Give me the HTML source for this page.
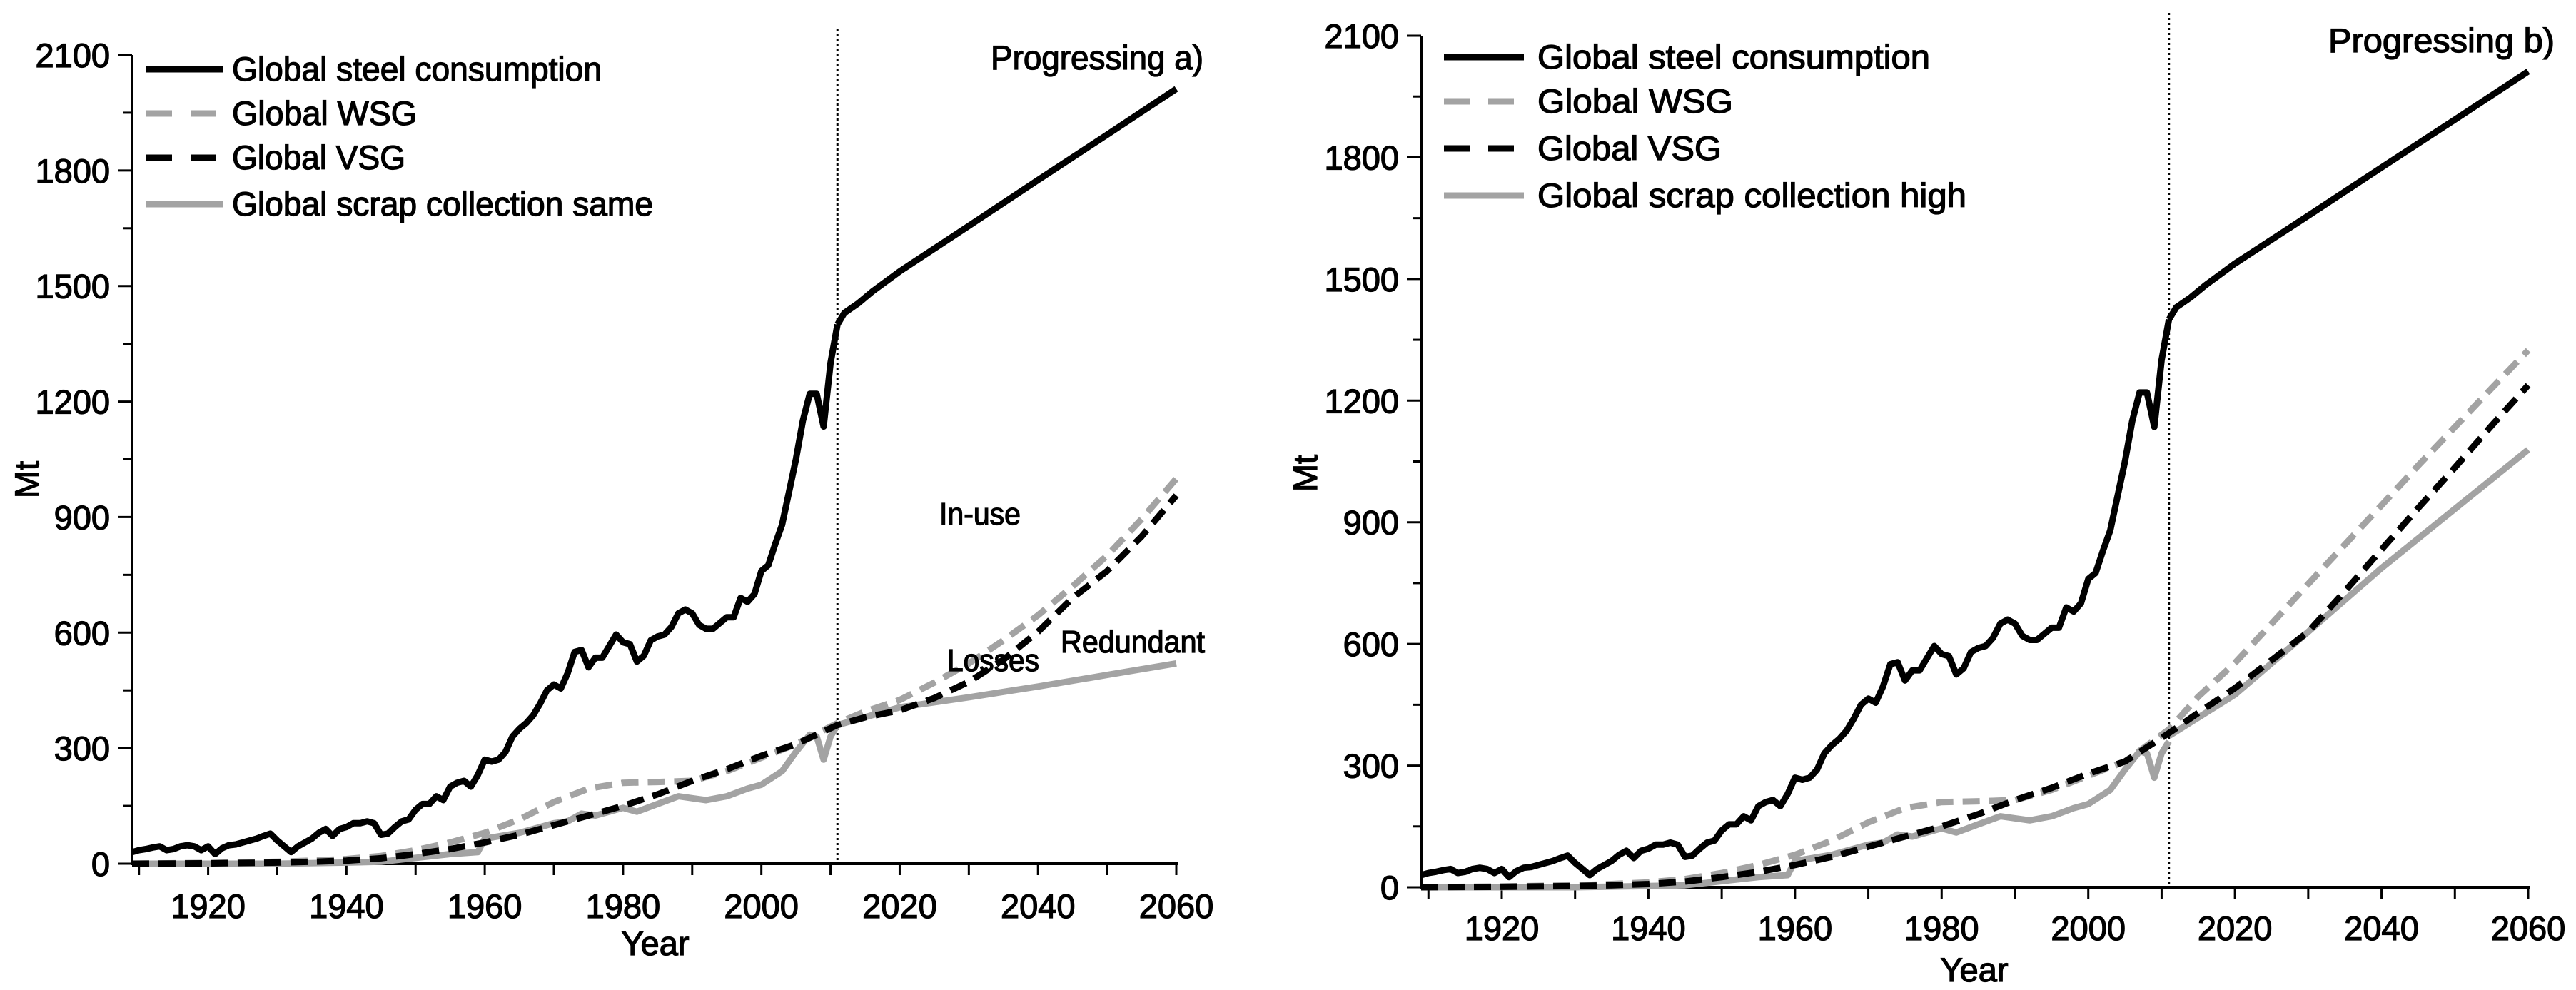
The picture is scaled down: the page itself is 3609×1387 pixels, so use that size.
<!DOCTYPE html>
<html><head><meta charset="utf-8"><style>
html,body{margin:0;padding:0;background:#fff;}
svg{display:block;font-family:"Liberation Sans",Arial,sans-serif;}
svg text{stroke:#000;stroke-width:1.3px;}
</style></head><body>
<svg id="fig" width="3609" height="1387" viewBox="0 0 3609 1387" xmlns="http://www.w3.org/2000/svg"></svg>
<script>
// ---- data ----
const histYears = [1909,1910,1911,1912,1913,1914,1915,1916,1917,1918,1919,1920,1921,1922,1923,1924,1925,1926,1927,1928,1929,1930,1931,1932,1933,1934,1935,1936,1937,1938,1939,1940,1941,1942,1943,1944,1945,1946,1947,1948,1949,1950,1951,1952,1953,1954,1955,1956,1957,1958,1959,1960,1961,1962,1963,1964,1965,1966,1967,1968,1969,1970,1971,1972,1973,1974,1975,1976,1977,1978,1979,1980,1981,1982,1983,1984,1985,1986,1987,1988,1989,1990,1991,1992,1993,1994,1995,1996,1997,1998,1999,2000,2001,2002,2003,2004,2005,2006,2007,2008,2009,2010,2011];
const steelHist = [30,35,38,42,45,35,38,45,48,45,35,45,25,40,48,50,55,60,65,72,78,60,45,30,45,55,65,80,90,72,90,95,105,105,110,105,75,78,95,110,115,140,155,155,175,165,200,210,215,200,230,270,265,270,290,330,350,365,385,415,450,465,455,495,550,555,510,535,535,565,595,575,570,525,540,580,590,595,615,650,660,650,620,610,610,625,640,640,690,680,700,760,775,830,880,965,1050,1150,1220,1220,1135,1300,1400];
const futYears = [2011,2012,2014,2016,2020,2030,2040,2050,2060];
const steelFut = [1400,1430,1455,1485,1538,1656,1775,1893,2012];

const smYears = [1909,1920,1930,1935,1940,1945,1950,1955,1960,1965,1970,1975,1980,1985,1990,1995,2000,2005,2011,2015,2020,2025,2030,2035,2040,2045,2050,2055,2060];
const wsgA = [0,2,5,8,12,20,35,55,80,115,160,195,210,212,215,240,275,310,365,395,425,470,520,580,645,720,800,895,1000];
const vsgA = [0,1,3,5,8,14,25,38,55,75,100,125,150,180,215,245,280,310,360,380,398,430,472,530,602,690,760,850,956];
const wsgB = [0,2,5,8,12,20,35,55,80,115,160,195,210,212,215,240,275,310,389,470,553,650,748,845,942,1040,1135,1230,1324];
const vsgB = [0,1,3,5,8,14,25,38,55,75,100,125,150,180,215,245,280,310,380,430,491,560,630,730,833,935,1035,1138,1238];

const scrapYears = [1909,1920,1930,1940,1945,1950,1955,1959,1960,1965,1970,1972,1974,1976,1980,1982,1985,1988,1990,1992,1995,1998,2000,2003,2005,2007,2008,2009,2010,2011];
const scrapHist = [0,0,0,3,5,15,25,30,65,80,105,110,130,125,145,135,155,175,170,165,175,195,205,240,290,335,330,270,330,360];
const scrapFutYears = [2011,2020,2030,2040,2050,2060];
const scrapFutA = [360,406,432,460,490,520];
const scrapFutB = [373,475,630,787,933,1079];

const yTicks = [0,300,600,900,1200,1500,1800,2100];
const xTicks = [1920,1940,1960,1980,2000,2020,2040,2060];
const legendA = ["Global steel consumption","Global WSG","Global VSG","Global scrap collection same"];
const legendB = ["Global steel consumption","Global WSG","Global VSG","Global scrap collection high"];

const NS="http://www.w3.org/2000/svg";
const svg=document.getElementById('fig');
function mk(tag,attrs,parent){const e=document.createElementNS(NS,tag);for(const k in attrs)e.setAttribute(k,attrs[k]);(parent||svg).appendChild(e);return e;}

const GRAY="#a3a3a3";
function panel(cfg){
  const g=mk('g',{});
  
  
  const X=y=>cfg.x0+(y-1909)*(cfg.x1-cfg.x0)/(2060-1909);
  const Y=v=>cfg.yb-v*(cfg.yb-cfg.yt)/2100;
  const ya=mk('line',{x1:cfg.x0,y1:cfg.yt,x2:cfg.x0,y2:cfg.yb+2,stroke:'#000','stroke-width':4},g);
  
  
  const xa=mk('line',{x1:cfg.x0-2,y1:cfg.yb,x2:cfg.x1+2,y2:cfg.yb,stroke:'#000','stroke-width':4},g);
  
  
  for(let v=0;v<=2100;v+=150){
    const major=v%300===0;
    mk('line',{x1:cfg.x0-(major?20:12),y1:Y(v),x2:cfg.x0,y2:Y(v),stroke:'#000','stroke-width':3},g);
  }
  yTicks.forEach(v=>{
    const t=mk('text',{x:cfg.x0-31,y:Y(v)+17,'text-anchor':'end','font-size':47},g);
    
    
    t.textContent=v;
  });
  for(let yr=1910;yr<=2060;yr+=10){
    mk('line',{x1:X(yr),y1:cfg.yb,x2:X(yr),y2:cfg.yb+16,stroke:'#000','stroke-width':3},g);
  }
  xTicks.forEach(yr=>{
    const t=mk('text',{x:X(yr),y:cfg.xl,'text-anchor':'middle','font-size':47},g);
    
    
    t.textContent=yr;
  });
  const xt=mk('text',{x:cfg.yearX,y:cfg.yearY,'text-anchor':'middle','font-size':47},g);
  
  
  xt.textContent='Year';
  const yt=mk('text',{x:0,y:0,'text-anchor':'middle','font-size':47,transform:`translate(${cfg.mtX},${cfg.mtY}) rotate(-90)`},g);
  
  
  yt.textContent='Mt';
  const dl=mk('line',{x1:X(2011),y1:cfg.dotTop,x2:X(2011),y2:cfg.yb,stroke:'#000','stroke-width':3,'stroke-dasharray':'3 4'},g);
  
  
  function line(xs,vs,style,name){
    const d=xs.map((x,i)=>(i?'L':'M')+X(x).toFixed(1)+' '+Y(vs[i]).toFixed(1)).join(' ');
    const p=mk('path',Object.assign({d:d,fill:'none','stroke-linejoin':'round','stroke-width':9},style),g);
    
    
  }
  line(scrapYears,scrapHist,{stroke:GRAY},'scrap-collection-historic');
  line(scrapFutYears,cfg.scrapFut,{stroke:GRAY},'scrap-collection-projection');
  line(smYears,cfg.wsg,{stroke:GRAY,'stroke-dasharray':'24 13'},'wsg-line');
  line(smYears,cfg.vsg,{stroke:'#000','stroke-dasharray':'24 13'},'vsg-line');
  line(histYears,steelHist,{stroke:'#000'},'steel-consumption-historic');
  line(futYears,steelFut,{stroke:'#000'},'steel-consumption-projection');
  const styles=[{stroke:'#000'},{stroke:GRAY,'stroke-dasharray':'36 26'},{stroke:'#000','stroke-dasharray':'36 26'},{stroke:GRAY}];
  cfg.legend.forEach((lab,i)=>{
    const ly=cfg.legRows[i];
    const l=mk('line',Object.assign({x1:cfg.legX0,y1:ly,x2:cfg.legX1,y2:ly,'stroke-width':9},styles[i]),g);
    
    
    const t=mk('text',{x:cfg.legTX,y:ly+16,'font-size':47,textLength:cfg.legW[i],lengthAdjust:'spacingAndGlyphs'},g);
    
    
    t.textContent=lab;
  });
  const tt=mk('text',{x:cfg.titX,y:cfg.titY+16,'font-size':47,textLength:cfg.titW,lengthAdjust:'spacingAndGlyphs'},g);
  
  
  tt.textContent=cfg.title;
  return g;
}

panel({name:'panel-a',x0:185,x1:1648,yt:77,yb:1210,xl:1286,yearX:918,yearY:1338,mtX:54,mtY:672,dotTop:40,
  wsg:wsgA,vsg:vsgA,scrapFut:scrapFutA,legend:legendA,legRows:[97,159,221,286],legX0:205,legX1:312,legTX:325,
  legW:[518,259,243,590],title:'Progressing a)',titX:1388,titY:81,titW:298});
panel({name:'panel-b',x0:1991,x1:3542,yt:50,yb:1243,xl:1317,yearX:2766,yearY:1375,mtX:1845,mtY:663,dotTop:18,
  wsg:wsgB,vsg:vsgB,scrapFut:scrapFutB,legend:legendB,legRows:[80,142,208,274],legX0:2023,legX1:2135,legTX:2154,
  legW:[550,274,258,601],title:'Progressing b)',titX:3262,titY:57,titW:317});

[['In-use',1316,719,114],['Losses',1327,924,129],['Redundant',1486,898,202]].forEach(a=>{
  const t=mk('text',{x:a[1],y:a[2]+16,'font-size':44,textLength:a[3],lengthAdjust:'spacingAndGlyphs'});
  
  
  t.textContent=a[0];
});
</script>
</body></html>
